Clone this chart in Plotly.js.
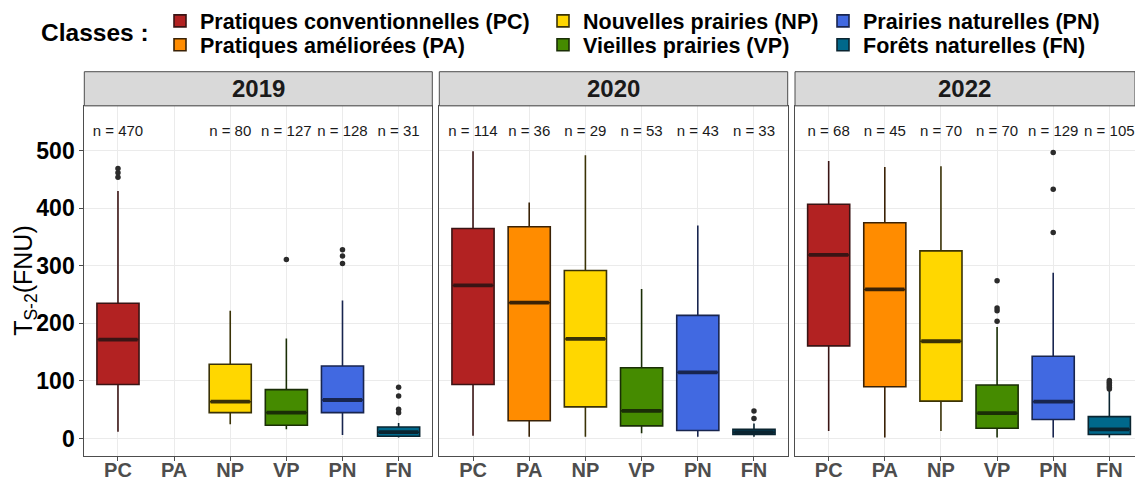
<!DOCTYPE html>
<html>
<head>
<meta charset="utf-8">
<script src="https://cdn.plot.ly/plotly-3.0.1.min.js"></script>
<style>html,body{margin:0;padding:0;background:#fff;}#chart{width:1135px;height:480px;}</style>
</head>
<body>
<div id="chart"></div>
<script>
// ---------- DATA ----------
const categories = ['PC', 'PA', 'NP', 'VP', 'PN', 'FN'];
const classNames = ['Pratiques conventionnelles (PC)', 'Pratiques améliorées (PA)', 'Nouvelles prairies (NP)',
                    'Vieilles prairies (VP)', 'Prairies naturelles (PN)', 'Forêts naturelles (FN)'];
const years = ['2019', '2020', '2022'];

// 2019 (PA absent)
const lower2019  = [12, null, 25, 16, 6, 2];
const q1_2019    = [94, null, 45, 23, 45, 4];
const median2019 = [172, null, 64, 45, 67, 11];
const q3_2019    = [235, null, 129, 85, 126, 20];
const upper2019  = [430, null, 222, 174, 240, 27];
const n2019      = [470, null, 80, 127, 128, 31];
const outliers2019 = { PC: [454, 462, 469], VP: [311], PN: [304, 317, 328], FN: [45, 51, 74, 89] };

// 2020
const lower2020  = [5, 3, 3, 9, 3, 3];
const q1_2020    = [94, 31, 55, 22, 14, 7];
const median2020 = [266, 236, 173, 48, 115, 11];
const q3_2020    = [365, 368, 292, 123, 214, 16];
const upper2020  = [499, 410, 492, 260, 370, 26];
const n2020      = [114, 36, 29, 53, 43, 33];
const outliers2020 = { FN: [35, 48] };

// 2022
const lower2022  = [13, 2, 13, 2, 2, 2];
const q1_2022    = [161, 90, 65, 18, 33, 7];
const median2022 = [319, 259, 169, 44, 64, 16];
const q3_2022    = [407, 375, 326, 93, 143, 38];
const upper2022  = [482, 472, 473, 194, 288, 84];
const n2022      = [68, 45, 70, 70, 129, 105];
const outliers2022 = { VP: [204, 222, 227, 274], PN: [358, 433, 497], FN: [86, 89, 92, 95, 98, 101] };

// ---------- STYLE ----------
const fillColors = ['#B22222', '#FF8C00', '#FFD700', '#458B00', '#4169E1', '#00688B'];
const lineColors = ['#3A1414', '#3A2206', '#3A3206', '#1A2E06', '#18254F', '#0A2430'];
const FONT = 'Liberation Sans, Arial, Helvetica, sans-serif';
const W = 1135, H = 480;
const px = v => v / W;
const py = v => 1 - v / H;

const panels = [
  { lower: lower2019, q1: q1_2019, med: median2019, q3: q3_2019, up: upper2019, n: n2019, out: outliers2019 },
  { lower: lower2020, q1: q1_2020, med: median2020, q3: q3_2020, up: upper2020, n: n2020, out: outliers2020 },
  { lower: lower2022, q1: q1_2022, med: median2022, q3: q3_2022, up: upper2022, n: n2022, out: outliers2022 }
];
const panelLeft = [84.3, 439.3, 795];
const panelRight = [432.3, 787.7, 1135];
const xRanges = [[-0.6, 5.6], [-0.6, 5.6], [-0.6, 5.457]];
const plotTop = 104.3, plotBottom = 455.7, stripTop = 70;
const yRange = [-30, 578];
const nLabelY = 532;
const legendPos = [[160, 19], [160, 43], [543, 19], [543, 43], [823, 19], [823, 43]];

const traces = [];
panels.forEach((p, pi) => {
  const xa = pi === 0 ? 'x' : 'x' + (pi + 1);
  const ya = pi === 0 ? 'y' : 'y' + (pi + 1);
  // n labels
  const nx = [], ny = [], nt = [];
  categories.forEach((c, ci) => {
    if (p.n[ci] == null) return;
    nx.push(c); ny.push(nLabelY); nt.push('n = ' + p.n[ci]);
  });
  traces.push({
    type: 'scatter', mode: 'text', xaxis: xa, yaxis: ya,
    x: nx, y: ny, text: nt,
    textfont: { family: FONT, size: 15, color: '#1a1a1a' },
    showlegend: false, hoverinfo: 'skip', cliponaxis: false
  });
  categories.forEach((c, ci) => {
    if (p.q1[ci] == null) return;
    const showLeg = pi === 1;
    traces.push({
      type: 'box', xaxis: xa, yaxis: ya, x: [c],
      q1: [p.q1[ci]], median: [p.med[ci]], q3: [p.q3[ci]],
      lowerfence: [p.lower[ci]], upperfence: [p.up[ci]],
      boxpoints: false, width: 0.75, whiskerwidth: 0,
      fillcolor: fillColors[ci], line: { color: lineColors[ci], width: 1.6 },
      name: classNames[ci], showlegend: showLeg,
      legend: ci === 0 ? 'legend' : 'legend' + (ci + 1),
      hoverinfo: 'skip'
    });
    // thick median bar
    traces.push({
      type: 'box', xaxis: xa, yaxis: ya, x: [c],
      q1: [p.med[ci]], median: [p.med[ci]], q3: [p.med[ci]],
      lowerfence: [p.med[ci]], upperfence: [p.med[ci]],
      boxpoints: false, width: 0.7, whiskerwidth: 0,
      fillcolor: 'rgba(0,0,0,0)', line: { color: lineColors[ci], width: 3.8 },
      showlegend: false, hoverinfo: 'skip'
    });
  });
  // outliers
  const ox = [], oy = [];
  Object.keys(p.out).forEach(k => p.out[k].forEach(v => { ox.push(k); oy.push(v); }));
  traces.push({
    type: 'scatter', mode: 'markers', xaxis: xa, yaxis: ya, x: ox, y: oy,
    marker: { size: 5.5, color: '#2b2b2b' }, showlegend: false, hoverinfo: 'skip'
  });
});

const layout = {
  width: W, height: H,
  margin: { l: 0, r: 0, t: 0, b: 0 },
  paper_bgcolor: '#ffffff', plot_bgcolor: '#ffffff',
  boxmode: 'overlay',
  font: { family: FONT, color: '#000' },
  shapes: [], annotations: []
};

for (let i = 0; i < 3; i++) {
  const sx = i === 0 ? '' : String(i + 1);
  layout['xaxis' + sx] = {
    domain: [px(panelLeft[i]), Math.min(1, px(panelRight[i]))],
    anchor: 'y' + sx, type: 'category',
    categoryorder: 'array', categoryarray: categories,
    range: xRanges[i],
    showgrid: true, gridcolor: '#EBEBEB', gridwidth: 1,
    showline: true, mirror: true, linecolor: '#4D4D4D', linewidth: 1,
    ticks: 'outside', ticklen: 4, tickcolor: '#4D4D4D',
    ticklabelstandoff: -8,
    tickfont: { family: FONT, size: 20, color: '#4D4D4D', weight: 'bold' },
    zeroline: false, fixedrange: true
  };
  layout['yaxis' + sx] = {
    domain: [py(plotBottom), py(plotTop)],
    anchor: 'x' + sx, range: yRange,
    tickvals: [0, 100, 200, 300, 400, 500],
    showgrid: true, gridcolor: '#EBEBEB', gridwidth: 1,
    showline: true, mirror: true, linecolor: '#4D4D4D', linewidth: 1,
    ticks: i === 0 ? 'outside' : '', ticklen: 4, tickcolor: '#4D4D4D',
    showticklabels: i === 0,
    tickfont: { family: FONT, size: 23, color: '#000', weight: 'bold' },
    zeroline: false, fixedrange: true
  };
  // strips
  layout.shapes.push({
    type: 'rect', xref: 'paper', yref: 'paper',
    x0: px(panelLeft[i]), x1: Math.min(1, px(panelRight[i])), y0: py(plotTop), y1: py(stripTop),
    fillcolor: '#D9D9D9', line: { color: '#4D4D4D', width: 1 }
  });
  layout.annotations.push({
    xref: 'paper', yref: 'paper',
    x: px((panelLeft[i] + Math.min(panelRight[i], panelLeft[i] + 348)) / 2), y: py((plotTop + stripTop) / 2),
    text: years[i], showarrow: false, xanchor: 'center', yanchor: 'middle',
    font: { family: FONT, size: 24, color: '#1A1A1A', weight: 'bold' }
  });
}

// y axis title (placed as rotated text next to the first panel)
layout.annotations.push({
  xref: 'paper', yref: 'paper', x: px(25), y: py((plotTop + plotBottom) / 2),
  xanchor: 'center', yanchor: 'middle', textangle: -90, showarrow: false,
  text: 'T<sub>S-2</sub>(FNU)', font: { family: FONT, size: 25, color: '#000' }
});

// legend title
layout.annotations.push({
  xref: 'paper', yref: 'paper', x: px(95), y: py(31), xanchor: 'center', yanchor: 'middle',
  text: 'Classes :', showarrow: false,
  font: { family: FONT, size: 24.5, color: '#000', weight: 'bold' }
});
// six single-entry legends, arranged in 3 columns x 2 rows (column order like ggplot)
legendPos.forEach((pos, i) => {
  const key = i === 0 ? 'legend' : 'legend' + (i + 1);
  layout[key] = {
    x: px(pos[0]), y: py(pos[1]), xanchor: 'left', yanchor: 'middle',
    bgcolor: 'rgba(0,0,0,0)', borderwidth: 0,
    font: { family: FONT, size: 21.5, color: '#000', weight: 'bold' }
  };
});

Plotly.newPlot('chart', traces, layout, { staticPlot: true, displayModeBar: false });
</script>
</body>
</html>
